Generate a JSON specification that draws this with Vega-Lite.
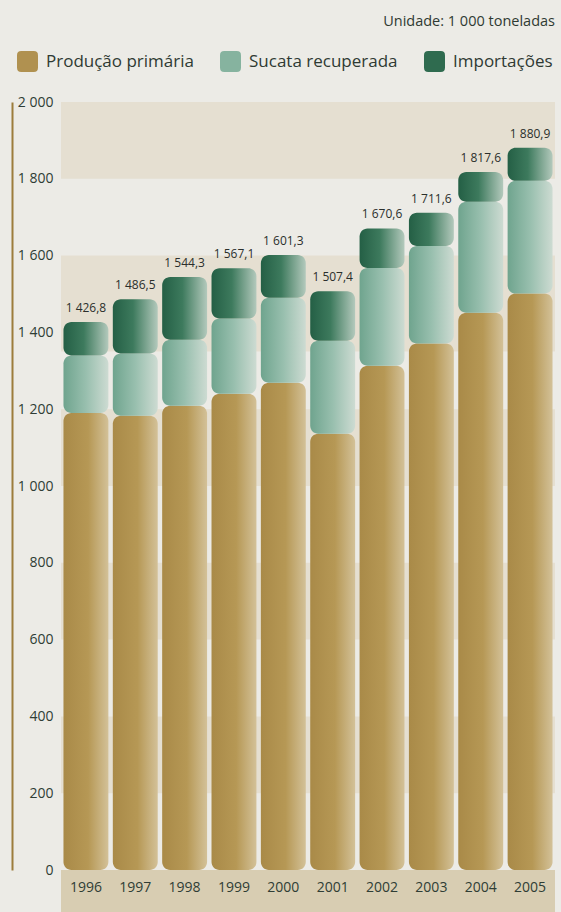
{
  "$schema": "https://vega.github.io/schema/vega-lite/v6.json",
  "autosize": {"type": "none"},
  "width": 494,
  "height": 768,
  "padding": {"left": 61, "top": 102, "right": 6, "bottom": 42},
  "background": "#ecebe6",
  "config": {
    "locale": {"number": {"decimal": ",", "thousands": " ", "grouping": [3], "currency": ["", ""]}},
    "font": "Open Sans",
    "view": {"stroke": null}
  },
  "title": {
    "text": "Unidade: 1 000 toneladas",
    "anchor": "end",
    "fontSize": 14.5,
    "fontWeight": "normal",
    "color": "#2f3a33",
    "offset": 22,
    "font": "Open Sans"
  },
  "data": {
    "values": [
      {"year": "1996", "cat": "Produção primária", "order": 1, "value": 1190},
      {"year": "1996", "cat": "Sucata recuperada", "order": 2, "value": 150},
      {"year": "1996", "cat": "Importações", "order": 3, "value": 86.8},
      {"year": "1997", "cat": "Produção primária", "order": 1, "value": 1183},
      {"year": "1997", "cat": "Sucata recuperada", "order": 2, "value": 162},
      {"year": "1997", "cat": "Importações", "order": 3, "value": 141.5},
      {"year": "1998", "cat": "Produção primária", "order": 1, "value": 1209},
      {"year": "1998", "cat": "Sucata recuperada", "order": 2, "value": 172},
      {"year": "1998", "cat": "Importações", "order": 3, "value": 163.3},
      {"year": "1999", "cat": "Produção primária", "order": 1, "value": 1240},
      {"year": "1999", "cat": "Sucata recuperada", "order": 2, "value": 196},
      {"year": "1999", "cat": "Importações", "order": 3, "value": 131.1},
      {"year": "2000", "cat": "Produção primária", "order": 1, "value": 1269},
      {"year": "2000", "cat": "Sucata recuperada", "order": 2, "value": 221},
      {"year": "2000", "cat": "Importações", "order": 3, "value": 111.3},
      {"year": "2001", "cat": "Produção primária", "order": 1, "value": 1136},
      {"year": "2001", "cat": "Sucata recuperada", "order": 2, "value": 242},
      {"year": "2001", "cat": "Importações", "order": 3, "value": 129.4},
      {"year": "2002", "cat": "Produção primária", "order": 1, "value": 1313},
      {"year": "2002", "cat": "Sucata recuperada", "order": 2, "value": 255},
      {"year": "2002", "cat": "Importações", "order": 3, "value": 102.6},
      {"year": "2003", "cat": "Produção primária", "order": 1, "value": 1371},
      {"year": "2003", "cat": "Sucata recuperada", "order": 2, "value": 254},
      {"year": "2003", "cat": "Importações", "order": 3, "value": 86.6},
      {"year": "2004", "cat": "Produção primária", "order": 1, "value": 1451},
      {"year": "2004", "cat": "Sucata recuperada", "order": 2, "value": 289},
      {"year": "2004", "cat": "Importações", "order": 3, "value": 77.6},
      {"year": "2005", "cat": "Produção primária", "order": 1, "value": 1501},
      {"year": "2005", "cat": "Sucata recuperada", "order": 2, "value": 294},
      {"year": "2005", "cat": "Importações", "order": 3, "value": 85.9}
    ]
  },
  "transform": [
    {"stack": "value", "groupby": ["year"], "sort": [{"field": "order"}], "as": ["v0", "v1"]}
  ],
  "encoding": {
    "x": {
      "field": "year", "type": "nominal", "sort": null,
      "scale": {"paddingInner": 0.09, "paddingOuter": 0.05},
      "axis": {"title": null, "labelAngle": 0, "domain": false, "ticks": false, "labelPadding": 10, "labelFontSize": 14, "labelColor": "#2f3d35", "labelFont": "Open Sans", "zindex": 1}
    }
  },
  "layer": [
    {
      "data": {"values": [
        {"lo": -112, "hi": 0, "kind": "base"},
        {"lo": 1800, "hi": 2000, "kind": "band"},
        {"lo": 1350, "hi": 1600, "kind": "band"},
        {"lo": 1000, "hi": 1200, "kind": "band"},
        {"lo": 600, "hi": 800, "kind": "band"},
        {"lo": 200, "hi": 400, "kind": "band"}
      ]},
      "transform": [],
      "mark": {"type": "rect"},
      "encoding": {
        "x": null,
        "y": {"field": "lo", "type": "quantitative", "scale": {"domain": [0, 2000], "nice": false}},
        "y2": {"field": "hi"},
        "fill": {"field": "kind", "type": "nominal", "scale": {"domain": ["base", "band"], "range": ["#d8cdb2", "#e5dfd1"]}, "legend": null}
      }
    },
    {
      "transform": [{"filter": "datum.order == 1"}],
      "mark": {"type": "bar", "cornerRadius": 8, "color": {"gradient": "linear", "x1": 0, "y1": 0, "x2": 1, "y2": 0, "stops": [{"offset": 0, "color": "#a98a48"}, {"offset": 0.55, "color": "#b69855"}, {"offset": 1, "color": "#d3c198"}]}},
      "encoding": {
        "y": {"field": "v0", "type": "quantitative", "scale": {"domain": [0, 2000], "nice": false},
          "axis": {"title": null, "values": [0, 200, 400, 600, 800, 1000, 1200, 1400, 1600, 1800, 2000], "format": ",d", "grid": false, "ticks": false, "domain": true, "domainColor": "#9c7d3c", "domainWidth": 2, "offset": 49, "labelPadding": -41, "labelAlign": "right", "labelFontSize": 14, "labelColor": "#2f3d35", "labelFont": "Open Sans", "zindex": 1}},
        "y2": {"field": "v1"}
      }
    },
    {
      "transform": [{"filter": "datum.order == 2"}],
      "mark": {"type": "bar", "cornerRadius": 8, "color": {"gradient": "linear", "x1": 0, "y1": 0, "x2": 1, "y2": 0, "stops": [{"offset": 0, "color": "#6fa48e"}, {"offset": 0.5, "color": "#98bfae"}, {"offset": 1, "color": "#cddbd2"}]}},
      "encoding": {
        "y": {"field": "v0", "type": "quantitative"},
        "y2": {"field": "v1"}
      }
    },
    {
      "transform": [{"filter": "datum.order == 3"}],
      "mark": {"type": "bar", "cornerRadius": 8, "color": {"gradient": "linear", "x1": 0, "y1": 0, "x2": 1, "y2": 0, "stops": [{"offset": 0, "color": "#245f45"}, {"offset": 0.45, "color": "#3d7a5d"}, {"offset": 1, "color": "#b3c9bc"}]}},
      "encoding": {
        "y": {"field": "v0", "type": "quantitative"},
        "y2": {"field": "v1"}
      }
    },
    {
      "transform": [{"filter": "datum.order == 3"}],
      "mark": {"type": "text", "dy": -10, "baseline": "alphabetic", "fontSize": 12, "color": "#2b2f2c", "font": "Open Sans"},
      "encoding": {
        "y": {"field": "v1", "type": "quantitative"},
        "text": {"field": "v1", "type": "quantitative", "format": ",.1f"}
      }
    },
    {
      "mark": {"type": "point", "filled": true, "size": 0, "opacity": 0},
      "encoding": {
        "y": {"field": "v1", "type": "quantitative"},
        "color": {
          "field": "cat", "type": "nominal",
          "scale": {"domain": ["Produção primária", "Sucata recuperada", "Importações"], "range": ["#b09150", "#86b39f", "#2f6b4f"]},
          "legend": {
            "title": null, "orient": "none", "legendX": -44, "legendY": -51, "direction": "horizontal",
            "symbolType": "M-1,-0.6Q-1,-1 -0.6,-1H0.6Q1,-1 1,-0.6V0.6Q1,1 0.6,1H-0.6Q-1,1 -1,0.6Z", "symbolSize": 441, "symbolOpacity": 1, "symbolStrokeWidth": 0,
            "labelFontSize": 17, "labelFont": "Open Sans", "labelColor": "#2f3a33", "labelOffset": 8, "columnPadding": 26
          }
        }
      }
    }
  ]
}
